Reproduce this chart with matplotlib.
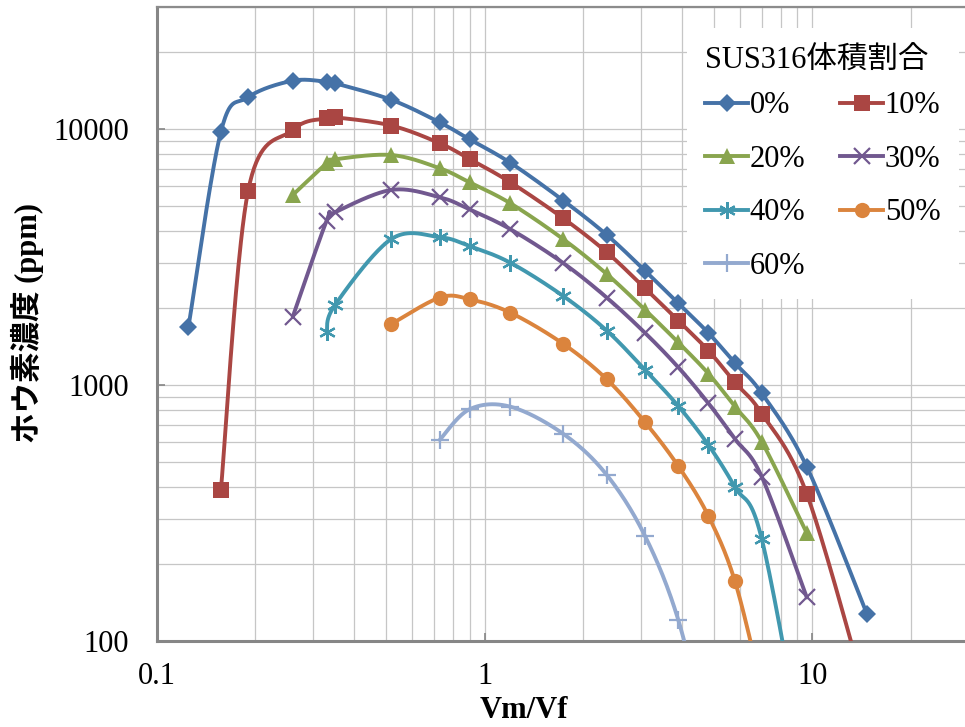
import numpy as np
import matplotlib.pyplot as plt
from matplotlib.lines import Line2D
from matplotlib.ticker import (LogLocator, FixedLocator, FuncFormatter,
                               NullFormatter)

plt.rcParams['font.family'] = ['Liberation Serif', 'Noto Sans CJK JP']

# Vm/Vf values at which the boron concentration was measured
x_0 = [0.125, 0.157, 0.19, 0.26, 0.33, 0.35, 0.52, 0.73, 0.9, 1.2, 1.74,
       2.36, 3.09, 3.9, 4.82, 5.81, 7.01, 9.62, 14.66]
x_10 = x_0[1:]
x_20 = x_0[3:18]
x_30 = x_0[3:18]
x_40 = x_0[4:18]
x_50 = x_0[6:17]
x_60 = x_0[7:15]

# boron concentration (ppm) per SUS316 volume fraction
y_0 = [1690, 9800, 13350, 15500, 15350, 15150, 13050, 10650, 9150, 7400,
       5270, 3870, 2800, 2090, 1600, 1220, 930, 480, 128]
y_10 = [390, 5740, 9950, 11050, 11150, 10350, 8830, 7660, 6210, 4490, 3310,
        2390, 1790, 1365, 1025, 775, 376, 60]
y_20 = [5540, 7370, 7640, 7940, 7050, 6210, 5140, 3720, 2720, 1970, 1470,
        1110, 824, 601, 264]
y_30 = [1850, 4400, 4740, 5800, 5430, 4870, 4070, 3000, 2200, 1600, 1175,
        850, 616, 439, 148]
y_40 = [1620, 2060, 3730, 3790, 3500, 3010, 2230, 1635, 1147, 829, 584,
        399, 251, 30]
y_50 = [1735, 2200, 2170, 1920, 1450, 1055, 716, 483, 308, 171, 65]
y_60 = [611, 805, 824, 645, 446, 257, 121, 40]

labels = ['0%', '10%', '20%', '30%', '40%', '50%', '60%']
series = [(x_0, y_0), (x_10, y_10), (x_20, y_20), (x_30, y_30),
          (x_40, y_40), (x_50, y_50), (x_60, y_60)]
colors = ['#4572A7', '#AA4643', '#89A54E', '#71588F', '#4198AF', '#DB843D',
          '#93A9CF']
markers = ['D', 's', '^', 'x', (6, 2, 0), 'o', '+']
msizes = [9.5, 11, 11, 11, 12, 11, 13]


def smooth(xs, ys, n=40):
    # bezier smoothing done in log-log space (same as the screen space)
    P = np.column_stack([np.log10(xs), np.log10(ys)])
    E = np.vstack([P[0], P, P[-1]])
    t = np.linspace(0, 1, n)[1:, None]
    out = [P[:1]]
    for i in range(len(P) - 1):
        p0, p1, p2, p3 = E[i], E[i + 1], E[i + 2], E[i + 3]
        c1 = p1 + (p2 - p0) / 6
        c2 = p2 - (p3 - p1) / 6
        seg = ((1 - t) ** 3 * p1 + 3 * (1 - t) ** 2 * t * c1
               + 3 * (1 - t) * t ** 2 * c2 + t ** 3 * p2)
        out.append(seg)
    pts = np.vstack(out)
    return 10 ** pts[:, 0], 10 ** pts[:, 1]


W, H = 965, 727
fig = plt.figure(figsize=(W / 100, H / 100), dpi=100)

x0_px, y_bot_px = 156.7, 641
dec_x, dec_y = 327.8, 255.8
ax = fig.add_axes([x0_px / W, (H - y_bot_px) / H,
                   dec_x * 3 / W, dec_y * np.log10(300) / H])

handles = []
for (xs, ys), lab, c, m, ms in zip(series, labels, colors, markers, msizes):
    sx, sy = smooth(xs, ys)
    ax.plot(sx, sy, color=c, lw=2.8, solid_capstyle='round', zorder=3)
    mew = 1.6 if m in ('x', '+', (6, 2, 0)) else 0
    ax.plot(xs, ys, ls='none', marker=m, ms=ms, color=c, mec=c, mew=mew,
            zorder=4)
    handles.append(Line2D([], [], color=c, lw=2.8, marker=m, ms=ms, mec=c,
                          mew=mew))

ax.set_xscale('log')
ax.set_yscale('log')
ax.set_xlim(0.1, 100)
ax.set_ylim(100, 30000)

ax.xaxis.set_major_locator(FixedLocator([0.1, 1, 10]))
ax.xaxis.set_minor_locator(LogLocator(base=10, subs=np.arange(2, 10)))
ax.yaxis.set_major_locator(FixedLocator([100, 1000, 10000]))
ax.yaxis.set_minor_locator(LogLocator(base=10, subs=np.arange(2, 10)))
fmt = FuncFormatter(lambda v, p: '%g' % v)
ax.xaxis.set_major_formatter(fmt)
ax.yaxis.set_major_formatter(fmt)
ax.xaxis.set_minor_formatter(NullFormatter())
ax.yaxis.set_minor_formatter(NullFormatter())

ax.grid(which='both', color='#c6c6c6', lw=0.9)
ax.set_axisbelow(True)

ax.tick_params(which='major', direction='in', length=6, width=1.2,
               color='#868686', labelsize=22)
ax.tick_params(axis='x', which='major', pad=15)
ax.tick_params(axis='y', which='major', pad=20)
ax.tick_params(which='minor', length=0)

for s in ['left', 'bottom']:
    ax.spines[s].set_color('#868686')
    ax.spines[s].set_linewidth(2.2)
ax.spines['top'].set_color('#8c8c8c')
ax.spines['top'].set_linewidth(1.6)
ax.spines['right'].set_visible(False)

fig.text(524 / W, 1 - 711 / H, 'Vm/Vf', fontsize=22, fontweight='bold',
         ha='center', va='center')
fig.text(27 / W, 1 - 323 / H, 'ホウ素濃度 (ppm)', fontsize=22,
         fontweight='bold', rotation=90, ha='center', va='center')

order = [0, 2, 4, 6, 1, 3, 5]
leg = fig.legend([handles[i] for i in order], [labels[i] for i in order],
                 title='SUS316体積割合', ncol=2, fontsize=22,
                 title_fontsize=22, loc='upper left',
                 bbox_to_anchor=(687 / W, 1 - 28 / H),
                 bbox_transform=fig.transFigure, borderaxespad=0,
                 frameon=True, facecolor='white', edgecolor='none',
                 framealpha=1, fancybox=False, handlelength=1.4,
                 handletextpad=0.05, columnspacing=1.15, labelspacing=0.8,
                 borderpad=0.6, numpoints=1)
leg._legend_box.align = 'left'
leg._legend_box.sep = 11.5

fig.savefig('out.png', dpi=100)
